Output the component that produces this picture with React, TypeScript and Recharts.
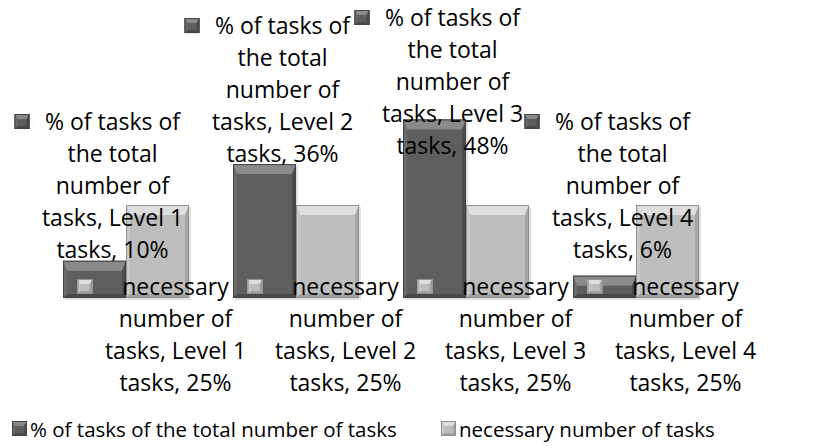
import React from 'react';
import { BarChart, Bar, XAxis, YAxis, Legend, LabelList } from 'recharts';

const categories = ['Level 1 tasks', 'Level 2 tasks', 'Level 3 tasks', 'Level 4 tasks'];
const shareOfTotal = [10, 36, 48, 6];
const necessaryTasks = [25, 25, 25, 25];
const seriesNames = ['% of tasks of the total number of tasks', 'necessary number of tasks'];

const data = categories.map((category, i) => ({
  category,
  share: shareOfTotal[i],
  necessary: necessaryTasks[i],
}));

const W = 823;
const H = 448;
const MARGIN = { top: 112, right: 102, bottom: 150, left: 41 };
const FONT = '"Open Sans", "Liberation Sans", sans-serif';

const palettes = [
  { main: '#5e5e5e', top: '#8a8a8a', left: '#6a6a6a', right: '#4c4c4c', bottom: '#484848', edge: '#434343' },
  { main: '#bdbdbd', top: '#dedede', left: '#c8c8c8', right: '#a6a6a6', bottom: '#a0a0a0', edge: '#8f8f8f' },
];

// greedy word wrap, roughly what the data label box does
const wrap = (text: string, max = 14) => {
  const words = text.split(' ');
  const lines: string[] = [];
  let cur = '';
  words.forEach((w) => {
    const next = cur ? cur + ' ' + w : w;
    if (next.length > max && cur) {
      lines.push(cur);
      cur = w;
    } else cur = next;
  });
  if (cur) lines.push(cur);
  return lines;
};

const Bevel = ({ x, y, w, h, p, tb = 10, sb = 4, shadow = true }: any) => {
  const t = Math.min(tb, h / 2);
  const s = Math.min(sb, w / 2);
  return (
    <g>
      {shadow && <rect x={x + 2} y={y + 2} width={w} height={h} fill="#000" opacity={0.12} />}
      <rect x={x} y={y} width={w} height={h} fill={p.main} />
      <polygon points={`${x},${y} ${x + w},${y} ${x + w - s},${y + t} ${x + s},${y + t}`} fill={p.top} />
      <polygon points={`${x},${y} ${x + s},${y + t} ${x + s},${y + h - s} ${x},${y + h}`} fill={p.left} />
      <polygon points={`${x + w},${y} ${x + w - s},${y + t} ${x + w - s},${y + h - s} ${x + w},${y + h}`} fill={p.right} />
      <polygon points={`${x},${y + h} ${x + s},${y + h - s} ${x + w - s},${y + h - s} ${x + w},${y + h}`} fill={p.bottom} />
      <rect x={x + 0.5} y={y + 0.5} width={w - 1} height={h - 1} fill="none" stroke={p.edge} strokeWidth={1} />
    </g>
  );
};

const makeShape = (si: number) => (props: any) => {
  const { x, y, width, height } = props;
  if (!height || height <= 0) return null;
  return <Bevel x={x} y={y} w={width} h={height} p={palettes[si]} />;
};

const KeyIcon = ({ x, y, si, size = 15 }: any) => (
  <Bevel x={x} y={y} w={size} h={size} p={palettes[si]} tb={5} sb={3} shadow={false} />
);

const makeLabel = (si: number) => (props: any) => {
  const x = Number(props.x);
  const y = Number(props.y);
  const width = Number(props.width);
  const height = Number(props.height);
  const { index, value } = props;
  const barC = x + width / 2;
  const base = y + height;
  const lines = wrap(`${seriesNames[si]}, ${categories[index]}, ${value}%`);
  const lh = 32;
  let first: number;
  if (si === 0) {
    // above the bar, but kept inside the chart area
    const last = Math.min(y - 10, base - 48);
    first = Math.max(last - (lines.length - 1) * lh, 18);
  } else {
    // inside base
    first = base - 11;
  }
  return (
    <g key={`lbl-${si}-${index}`}>
      <KeyIcon x={barC - 80} y={first - 8} si={si} />
      <text x={barC + 18} y={first + 8} textAnchor="middle" fontFamily={FONT} fontSize={23} fill="#000">
        {lines.map((l, i) => (
          <tspan key={i} x={barC + 18} y={first + 8 + i * lh}>{l}</tspan>
        ))}
      </text>
    </g>
  );
};

const LegendContent = () => (
  <div style={{ position: 'relative', height: 24, fontFamily: FONT, fontSize: 20.5, color: '#000', whiteSpace: 'nowrap' }}>
    {seriesNames.map((n, i) => (
      <div key={n} style={{ position: 'absolute', top: 0, left: i === 0 ? 0 : 429, display: 'flex', alignItems: 'center' }}>
        <svg width={16} height={16} style={{ marginRight: 2 }}>
          <KeyIcon x={0} y={0} si={i} size={15} />
        </svg>
        <span>{n}</span>
      </div>
    ))}
  </div>
);

const App = () => {
  return (
    <div style={{ position: 'absolute', left: 0, top: 0, width: W, height: H, background: '#fff' }}>
      <BarChart width={W} height={H} data={data} margin={MARGIN} barCategoryGap={22} barGap={0}>
        <XAxis dataKey="category" hide />
        <YAxis domain={[0, 50]} hide />
        <Legend
          verticalAlign="middle"
          align="center"
          layout="horizontal"
          content={LegendContent}
          wrapperStyle={{ position: 'absolute', left: 12, top: 415, width: 811 }}
        />
        <Bar dataKey="share" name={seriesNames[0]} fill={palettes[0].main} shape={makeShape(0)} isAnimationActive={false}>
          <LabelList dataKey="share" content={makeLabel(0)} />
        </Bar>
        <Bar dataKey="necessary" name={seriesNames[1]} fill={palettes[1].main} shape={makeShape(1)} isAnimationActive={false}>
          <LabelList dataKey="necessary" content={makeLabel(1)} />
        </Bar>
      </BarChart>
    </div>
  );
};

export default App;
